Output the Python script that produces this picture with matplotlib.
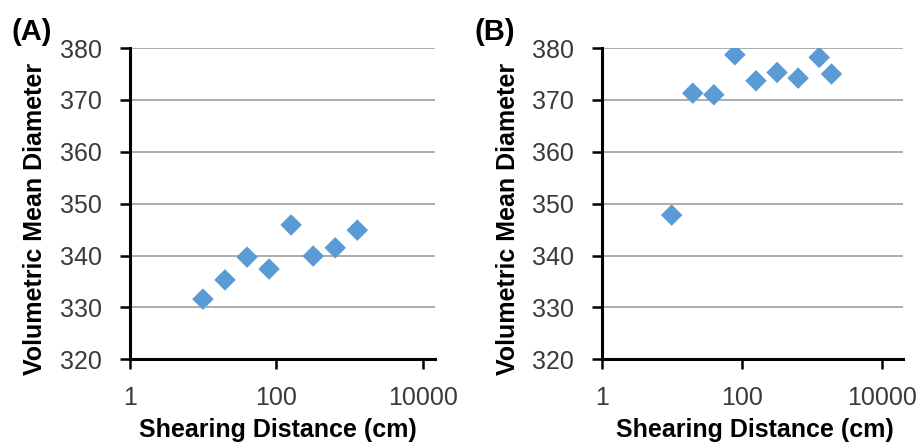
import matplotlib.pyplot as plt
import matplotlib.ticker as mticker

plt.rcParams['font.family'] = ['Liberation Sans', 'DejaVu Sans']

# Shearing distance (cm) and volumetric mean diameter for each panel
dist_a = [10, 20, 40, 80, 160, 320, 640, 1280]
vmd_a = [331.6, 335.3, 339.7, 337.4, 345.9, 339.9, 341.5, 344.9]

dist_b = [10, 20, 40, 80, 160, 320, 640, 1280, 1920]
vmd_b = [347.8, 371.3, 371.0, 378.7, 373.7, 375.3, 374.2, 378.2, 375.0]

yticks = [320, 330, 340, 350, 360, 370, 380]
xticks = [1, 100, 10000]
xtick_labels = ['1', '100', '10000']

fig = plt.figure(figsize=(9.21, 4.45), dpi=100)
ax_a = fig.add_axes([0.1408, 0.1926, 0.3315, 0.6994])
ax_b = fig.add_axes([0.6533, 0.1926, 0.3268, 0.6994])

blue = '#5B9BD5'
for ax, x, y, xmax in [(ax_a, dist_a, vmd_a, 10 ** 4.168),
                       (ax_b, dist_b, vmd_b, 10 ** 4.3)]:
    ax.scatter(x, y, marker='D', s=120, color=blue, edgecolors='none', zorder=3)
    ax.set_xscale('log')
    ax.set_xlim(1, xmax)
    ax.set_ylim(320, 380)
    ax.xaxis.set_major_locator(mticker.FixedLocator(xticks))
    ax.xaxis.set_minor_locator(mticker.NullLocator())
    ax.set_xticklabels(xtick_labels)
    ax.set_yticks(yticks)
    ax.grid(axis='y', color='#A6A6A6', linewidth=1.3)
    ax.set_axisbelow(True)
    for s in ['top', 'right']:
        ax.spines[s].set_visible(False)
    for s in ['left', 'bottom']:
        ax.spines[s].set_linewidth(2.2)
    ax.tick_params(axis='both', direction='out', length=7, width=1.8,
                   labelsize=18, labelcolor='#3a3a3a')
    ax.tick_params(axis='y', pad=13)
    ax.tick_params(axis='x', pad=12)
    ax.set_xlabel('Shearing Distance (cm)', fontsize=18, fontweight='bold')
    ax.set_ylabel('Volumetric Mean Diameter', fontsize=18, fontweight='bold')
    ax.yaxis.set_label_coords(-0.272, 0.45)

ax_a.xaxis.set_label_coords(0.487, -0.19)
ax_b.xaxis.set_label_coords(0.51, -0.19)

fig.text(0.012, 0.96, '(A)', fontsize=21, fontweight='bold', va='top')
fig.text(0.515, 0.96, '(B)', fontsize=21, fontweight='bold', va='top')

fig.savefig('out.png', dpi=100)
